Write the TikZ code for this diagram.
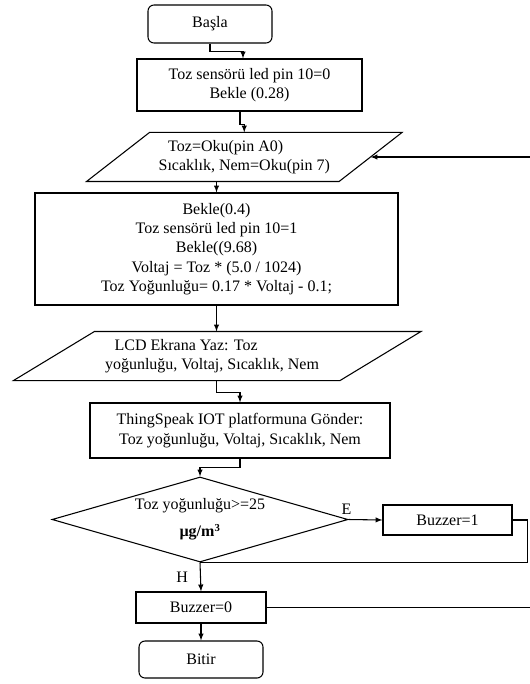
\documentclass[tikz,border=0pt]{standalone}
\usepackage{fontspec}
\setmainfont{Liberation Serif}
\usetikzlibrary{shapes.geometric,calc}
\begin{document}
\begin{tikzpicture}[x=0.75pt, y=-0.75pt, line width=0.8pt,
    every node/.style={font=\fontsize{12}{14.5}\selectfont, inner sep=2pt},
    kutu/.style={draw, rectangle, align=center},
    ucnokta/.style={draw, rectangle, rounded corners=4.5pt},
    girdi/.style={rectangle, align=left},
    kosul/.style={draw, diamond, aspect=3.5, align=center, inner sep=0pt},
    ok/.style={-latex}]
    \useasboundingbox (0,0) rectangle (529,684);
    \node[ucnokta, minimum width=93pt, minimum height=28.5pt] (basla) at (210,24) {Başla};
    \node[kutu, minimum width=168.75pt, minimum height=39pt] (bekle) at (249.5,85) {Toz sensörü led pin 10=0\\Bekle (0.28)};
    \node[girdi, minimum width=188.6pt, minimum height=36pt] (oku) at (244.25,157) {\hspace{0.6em}Toz=Oku(pin A0)\\Sıcaklık, Nem=Oku(pin 7)};
    \node[kutu, minimum width=272.25pt, minimum height=84pt] (hesap) at (216.5,249) {Bekle(0.4)\\Toz sensörü led pin 10=1\\Bekle((9.68)\\Voltaj = Toz * (5.0 / 1024)\\Toz Yoğunluğu= 0.17 * Voltaj - 0.1;};
    \node[girdi, minimum width=244.1pt, minimum height=36pt] (lcd) at (212,356) {\hspace{0.6em}LCD Ekrana Yaz: Toz\\yoğunluğu, Voltaj, Sıcaklık, Nem};
    \node[kutu, minimum width=225pt, minimum height=41.25pt] (gonder) at (240,430.5) {ThingSpeak IOT platformuna Gönder:\\Toz yoğunluğu, Voltaj, Sıcaklık, Nem};
    \node[kosul, minimum width=222pt, minimum height=63.75pt] (karar) at (200,519.5) {Toz yoğunluğu>=25\\[6pt]\textbf{µg/m\textsuperscript{3}}};
    \node[kutu, minimum width=96.75pt, minimum height=22.5pt] (buzzer1) at (447.5,520) {Buzzer=1};
    \node[kutu, minimum width=97.5pt, minimum height=23.25pt] (buzzer0) at (201,607.5) {Buzzer=0};
    \node[ucnokta, minimum width=93pt, minimum height=27.75pt] (bitir) at (201,659.5) {Bitir};
    \foreach \n/\s/\d in {oku/31.5/0, lcd/40.5/5.25}
        \draw ($(\n.north west)+(\s+\d,0)$) -- ($(\n.north east)+(\s+\d,0)$) -- ($(\n.south east)-(\s-\d,0)$) -- ($(\n.south west)-(\s-\d,0)$) -- cycle;
    \draw[ok] (basla.south) -- ++(0,8) -| ($(bekle.north)+(-6.5,0)$);
    \draw[ok] ($(bekle.south)+(-9.5,0)$) -- ++(0,13) -| (oku.north);
    \draw[ok] (hesap.north |- oku.south) -- (hesap.north);
    \draw[ok] (hesap.south) -- (hesap.south |- lcd.north);
    \draw[ok] (hesap.south |- lcd.south) -- ++(0,12) -| (gonder.north);
    \draw[ok] (gonder.south) -- ++(0,9) -| (karar.north);
    \draw[ok] (karar.east) -- node[pos=0, anchor=south, xshift=-1.5pt, inner sep=3pt] {E} (buzzer1.west);
    \draw (buzzer1.east) -- ++(15,0) |- (karar.south);
    \draw[ok] (karar.south) -- node[midway, left, inner sep=9pt] {H} (buzzer0.north);
    \draw[ok] (buzzer0.south) -- (bitir.north);
    \draw[ok] (buzzer0.east) -- ++(266,0) |- (oku.east);
\end{tikzpicture}
\end{document}
